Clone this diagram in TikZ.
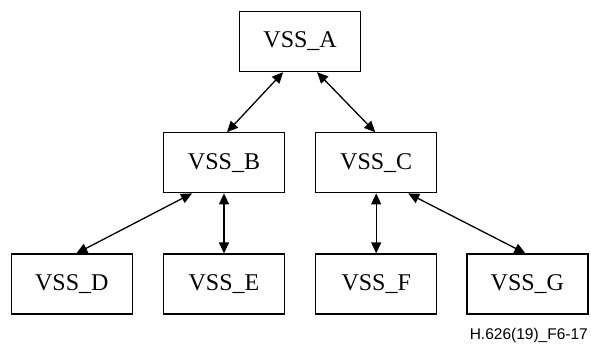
\documentclass[tikz,border=0pt]{standalone}
\usepackage{fontspec}
\setmainfont{Liberation Serif}
\newfontfamily\labelfont{Liberation Sans}
\usetikzlibrary{arrows.meta, positioning, calc}

\begin{document}
\begin{tikzpicture}[
  box/.style={draw, line width=1.2pt, minimum width=121pt,
              minimum height=60pt, font=\fontsize{24}{28}\selectfont},
  link/.style={{Triangle[length=11pt, width=10pt]}-{Triangle[length=11pt, width=10pt]}, line width=1.3pt},
  node distance=60pt and 30pt
]
  \useasboundingbox (0,0) rectangle (591pt,-345pt);

  % Nodes
  \node[box] (E) at (224pt,-284pt) {VSS\_E};
  \node[box, left=of E] (D) {VSS\_D};
  \node[box, right=of E] (F) {VSS\_F};
  \node[box, right=29pt of F] (G) {VSS\_G};
  \node[box, above=of E] (B) {VSS\_B};
  \node[box, above=of F] (C) {VSS\_C};
  \coordinate (BC) at ($(B.north)!0.5!(C.north)$);
  \node[box, above=of BC] (A) {VSS\_A};
  \node[anchor=east, inner sep=0pt, font=\labelfont\fontsize{15.5}{18}\selectfont]
    (fig) at (588pt,-335pt) {H.626(19)\_F6-17};

  % Arrows
  \draw[link] ([xshift=-17pt]A.south) -- ([xshift=3pt]B.north);
  \draw[link] ([xshift=17pt]A.south) -- ([xshift=-1pt]C.north);
  \draw[link] ([xshift=-32pt]B.south) -- ([xshift=4.5pt]D.north);
  \draw[link] (B) -- (E);
  \draw[link] (C) -- (F);
  \draw[link] ([xshift=32pt]C.south) -- ([xshift=-2pt]G.north);
\end{tikzpicture}
\end{document}
